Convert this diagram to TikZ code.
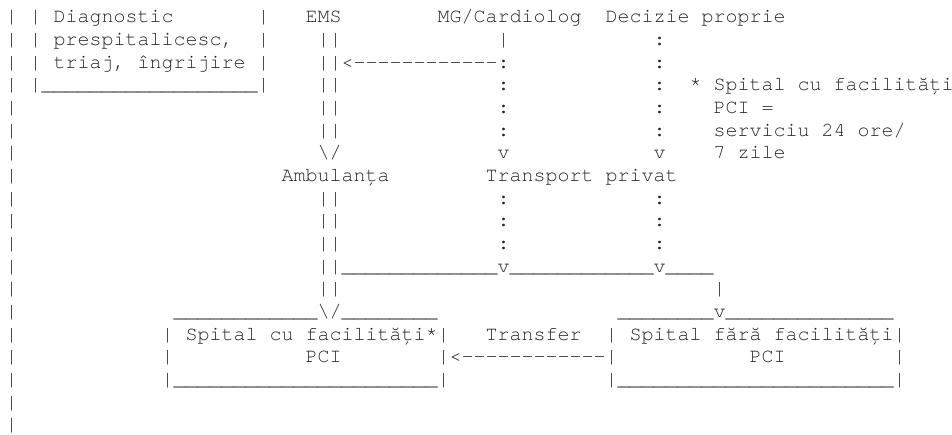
\documentclass[tikz,border=0pt]{standalone}
\usepackage{fontspec}
\setmonofont{TeX Gyre Cursor}
\newlength\charw
\setlength\charw{12pt}
\newcommand\cgap[1]{\hspace*{#1\charw}}
\ExplSyntaxOn
\cs_new:Npn \crep #1#2 { \prg_replicate:nn {#1} {#2} }
\ExplSyntaxOff
\frenchspacing
\tikzset{
  asc/.style={anchor=base west, inner sep=0pt, outer sep=0pt,
    font=\ttfamily\fontsize{20pt}{22.66pt}\selectfont, text=black!85},
}
\newcommand\bs{\textbackslash}
\begin{document}
\begin{tikzpicture}[x=1pt,y=1pt]
\fill[white] (0,0) rectangle (952,-435);
\useasboundingbox (0,0) rectangle (952,-435);
\def\xo{5.7}
\node[asc] (l1)  at (\xo,-23.00) {|\cgap{1}|\cgap{1}Diagnostic\cgap{7}|\cgap{3}EMS\cgap{8}MG/Cardiolog\cgap{2}Decizie proprie};
\node[asc] (l2)  at (\xo,-45.66) {|\cgap{1}|\cgap{1}prespitalicesc,\cgap{2}|\cgap{4}||\cgap{13}|\cgap{12}:};
\node[asc] (l3)  at (\xo,-68.32) {|\cgap{1}|\cgap{1}triaj, îngrijire\cgap{1}|\cgap{4}||<\crep{12}{-}:\cgap{12}:};
\node[asc] (l4)  at (\xo,-90.98) {|\cgap{1}|\crep{18}{\_}|\cgap{4}||\cgap{13}:\cgap{12}:\cgap{2}*\cgap{1}Spital cu facilități};
\node[asc] (l5)  at (\xo,-113.64) {|\cgap{25}||\cgap{13}:\cgap{12}:\cgap{4}PCI =};
\node[asc] (l6)  at (\xo,-136.30) {|\cgap{25}||\cgap{13}:\cgap{12}:\cgap{4}serviciu 24 ore/};
\node[asc] (l7)  at (\xo,-158.96) {|\cgap{25}\bs/\cgap{13}v\cgap{12}v\cgap{4}7 zile};
\node[asc] (l8)  at (\xo,-181.62) {|\cgap{22}Ambulanța\cgap{8}Transport privat};
\node[asc] (l9)  at (\xo,-204.28) {|\cgap{25}||\cgap{13}:\cgap{12}:};
\node[asc] (l10) at (\xo,-226.94) {|\cgap{25}||\cgap{13}:\cgap{12}:};
\node[asc] (l11) at (\xo,-249.60) {|\cgap{25}||\cgap{13}:\cgap{12}:};
\node[asc] (l12) at (\xo,-272.26) {|\cgap{25}||\crep{13}{\_}v\crep{12}{\_}v\crep{4}{\_}};
\node[asc] (l13) at (\xo,-294.92) {|\cgap{25}||\cgap{31}|};
\node[asc] (l14) at (\xo,-317.58) {|\cgap{13}\crep{12}{\_}\bs/\crep{8}{\_}\cgap{15}\crep{8}{\_}v\crep{14}{\_}};
\node[asc] (l15) at (\xo,-340.24) {|\cgap{12}|\cgap{1}Spital cu facilități*|\cgap{3}Transfer\cgap{2}|\cgap{1}Spital fără facilități|};
\node[asc] (l16) at (\xo,-362.90) {|\cgap{12}|\cgap{11}PCI\cgap{8}|<\crep{12}{-}|\cgap{11}PCI\cgap{9}|};
\node[asc] (l17) at (\xo,-385.56) {|\cgap{12}|\crep{22}{\_}|\cgap{13}|\crep{23}{\_}|};
\node[asc] (l18) at (\xo,-408.22) {|};
\node[asc] (l19) at (\xo,-430.88) {|};
\end{tikzpicture}
\end{document}
